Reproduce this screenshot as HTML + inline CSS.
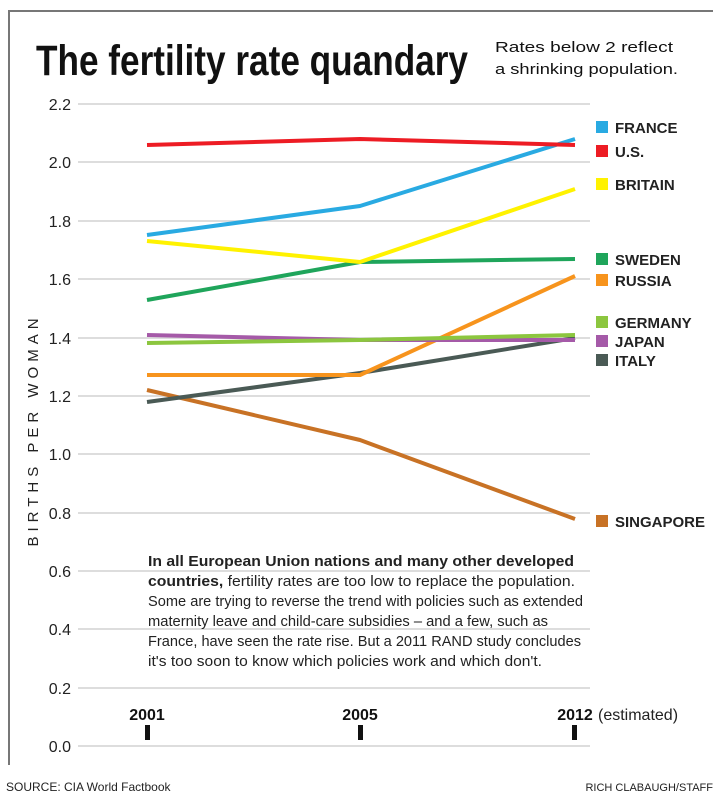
<!DOCTYPE html><html><head><style>
body{margin:0;background:#fff;width:720px;height:800px;overflow:hidden;font-family:"Liberation Sans",sans-serif;}
</style></head><body>
<svg width="720" height="800" xmlns="http://www.w3.org/2000/svg" font-family="Liberation Sans, sans-serif">
<line x1="8" y1="11" x2="713" y2="11" stroke="#777" stroke-width="2"/>
<line x1="9" y1="10" x2="9" y2="765" stroke="#777" stroke-width="2"/>
<text x="36" y="75" font-size="43" font-weight="bold" fill="#111" textLength="432" lengthAdjust="spacingAndGlyphs">The fertility rate quandary</text>
<text x="495" y="52" font-size="15" fill="#111" textLength="178" lengthAdjust="spacingAndGlyphs">Rates below 2 reflect</text>
<text x="495" y="74" font-size="15" fill="#111" textLength="183" lengthAdjust="spacingAndGlyphs">a shrinking population.</text>
<g stroke="#ddd" stroke-width="2">
<line x1="78" y1="104" x2="590" y2="104"/><line x1="78" y1="162" x2="590" y2="162"/><line x1="78" y1="221" x2="590" y2="221"/><line x1="78" y1="279" x2="590" y2="279"/><line x1="78" y1="338" x2="590" y2="338"/><line x1="78" y1="396" x2="590" y2="396"/><line x1="78" y1="454" x2="590" y2="454"/><line x1="78" y1="513" x2="590" y2="513"/><line x1="78" y1="571" x2="590" y2="571"/><line x1="78" y1="629" x2="590" y2="629"/><line x1="78" y1="688" x2="590" y2="688"/><line x1="78" y1="746" x2="590" y2="746"/>
</g>
<g font-size="16" fill="#222" text-anchor="end">
<text x="71" y="110">2.2</text><text x="71" y="168">2.0</text><text x="71" y="227">1.8</text><text x="71" y="285">1.6</text><text x="71" y="344">1.4</text><text x="71" y="402">1.2</text><text x="71" y="460">1.0</text><text x="71" y="519">0.8</text><text x="71" y="577">0.6</text><text x="71" y="635">0.4</text><text x="71" y="694">0.2</text><text x="71" y="752">0.0</text>
</g>
<text transform="translate(38,430) rotate(-90)" font-size="15" fill="#222" text-anchor="middle" letter-spacing="5">BIRTHS PER WOMAN</text>
<g fill="none" stroke-width="4" stroke-linejoin="round">
<polyline stroke="#c87225" points="147,390 360,440 575,519"/>
<polyline stroke="#4a5a55" points="147,402 360,373 575,338"/>
<polyline stroke="#f7941d" points="147,375 360,375 575,276"/>
<polyline stroke="#a55aa8" points="147,335 360,340 575,340"/>
<polyline stroke="#8cc63f" points="147,343 360,340 575,335"/>
<polyline stroke="#1fa55b" points="147,300 360,262 575,259"/>
<polyline stroke="#fff200" points="147,241 360,262 575,189"/>
<polyline stroke="#29aae2" points="147,235 360,206 575,139"/>
<polyline stroke="#ed1c24" points="147,145 360,139 575,145"/>
</g>
<g font-size="15" font-weight="bold" fill="#222">
<rect x="596" y="121" width="12" height="12" fill="#29aae2"/><text x="615" y="133">FRANCE</text>
<rect x="596" y="145" width="12" height="12" fill="#ed1c24"/><text x="615" y="157">U.S.</text>
<rect x="596" y="178" width="12" height="12" fill="#fff200"/><text x="615" y="190">BRITAIN</text>
<rect x="596" y="253" width="12" height="12" fill="#1fa55b"/><text x="615" y="265">SWEDEN</text>
<rect x="596" y="274" width="12" height="12" fill="#f7941d"/><text x="615" y="286">RUSSIA</text>
<rect x="596" y="316" width="12" height="12" fill="#8cc63f"/><text x="615" y="328">GERMANY</text>
<rect x="596" y="335" width="12" height="12" fill="#a55aa8"/><text x="615" y="347">JAPAN</text>
<rect x="596" y="354" width="12" height="12" fill="#4a5a55"/><text x="615" y="366">ITALY</text>
<rect x="596" y="515" width="12" height="12" fill="#c87225"/><text x="615" y="527">SINGAPORE</text>
</g>
<g font-size="15" fill="#222">
<text x="148" y="566" font-weight="bold" textLength="426" lengthAdjust="spacingAndGlyphs">In all European Union nations and many other developed</text>
<text x="148" y="586" textLength="427" lengthAdjust="spacingAndGlyphs"><tspan font-weight="bold">countries,</tspan> fertility rates are too low to replace the population.</text>
<text x="148" y="606" textLength="435" lengthAdjust="spacingAndGlyphs">Some are trying to reverse the trend with policies such as extended</text>
<text x="148" y="626" textLength="400" lengthAdjust="spacingAndGlyphs">maternity leave and child-care subsidies – and a few, such as</text>
<text x="148" y="646" textLength="433" lengthAdjust="spacingAndGlyphs">France, have seen the rate rise. But a 2011 RAND study concludes</text>
<text x="148" y="666" textLength="394" lengthAdjust="spacingAndGlyphs">it's too soon to know which policies work and which don't.</text>
</g>
<g font-size="16" font-weight="bold" fill="#111" text-anchor="middle">
<text x="147" y="720">2001</text><text x="360" y="720">2005</text><text x="575" y="720">2012</text>
</g>
<text x="598" y="720" font-size="16" fill="#222">(estimated)</text>
<g fill="#111"><rect x="145" y="725" width="5" height="15"/><rect x="358" y="725" width="5" height="15"/><rect x="572" y="725" width="5" height="15"/></g>
<text x="6" y="791" font-size="12" fill="#222">SOURCE: CIA World Factbook</text>
<text x="713" y="791" font-size="11" fill="#222" text-anchor="end">RICH CLABAUGH/STAFF</text>
</svg>
</body></html>
